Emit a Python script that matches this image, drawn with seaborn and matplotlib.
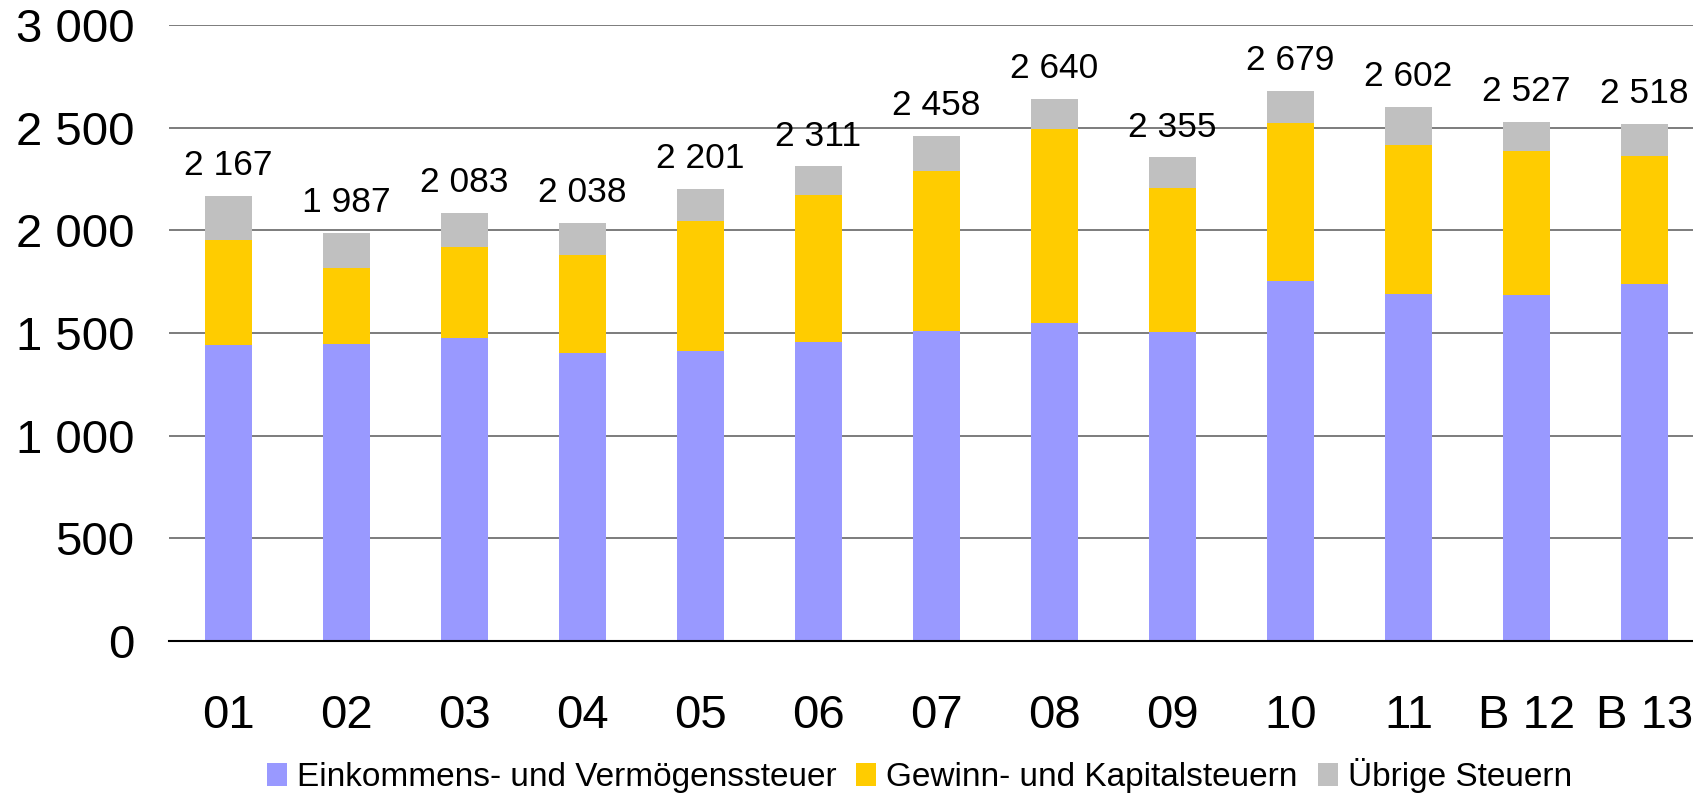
import numpy as np
import pandas as pd
import seaborn as sns
import matplotlib.pyplot as plt
from matplotlib.ticker import FuncFormatter
from matplotlib.patches import Patch

years = ["01", "02", "03", "04", "05", "06", "07", "08", "09", "10", "11", "B 12", "B 13"]
einkommen = [1442, 1448, 1478, 1403, 1413, 1458, 1510, 1549, 1505, 1754, 1692, 1685, 1740]
gewinn = [513, 370, 441, 477, 633, 714, 779, 942, 703, 769, 724, 702, 624]
uebrige = [212, 169, 164, 158, 155, 139, 169, 149, 147, 156, 186, 140, 154]

labels = ["Einkommens- und Vermögenssteuer", "Gewinn- und Kapitalsteuern", "Übrige Steuern"]
colors = ["#9999FF", "#FFCC00", "#C0C0C0"]

df = pd.DataFrame({"year": years, "ek": einkommen, "gk": gewinn, "ub": uebrige})
df["lvl2"] = df["ek"] + df["gk"]
df["total"] = df["lvl2"] + df["ub"]

sns.set_style("white")
plt.rcParams["font.family"] = ["Liberation Sans", "DejaVu Sans"]
plt.rcParams["text.color"] = "black"
plt.rcParams["xtick.color"] = "black"
plt.rcParams["ytick.color"] = "black"

fig = plt.figure(figsize=(16.93, 7.95), dpi=100)
ax = fig.add_axes([0.100, 0.1937, 0.900, 0.7749])

# overlapping bars, tallest first, give the stacked look
sns.barplot(x="year", y="total", data=df, color=colors[2], width=0.40, saturation=1, linewidth=0, ax=ax, zorder=2)
sns.barplot(x="year", y="lvl2", data=df, color=colors[1], width=0.40, saturation=1, linewidth=0, ax=ax, zorder=2)
sns.barplot(x="year", y="ek", data=df, color=colors[0], width=0.40, saturation=1, linewidth=0, ax=ax, zorder=2)

ax.bar_label(ax.containers[0], fmt=lambda v: f"{v:,.0f}".replace(",", " "),
             padding=10, fontsize=25.5, color="black")

ax.set_ylim(0, 3000)
ax.set_xlim(-0.5, 12.41)
ax.set_yticks(range(0, 3001, 500))
ax.yaxis.set_major_formatter(FuncFormatter(lambda v, p: f"{v:,.0f}".replace(",", " ")))
ax.grid(axis="y", color="#666666", linewidth=1.2, zorder=0)
ax.set_axisbelow(True)
for s in ["left", "right", "top"]:
    ax.spines[s].set_visible(False)
ax.spines["bottom"].set_color("black")
ax.spines["bottom"].set_linewidth(1.5)
ax.tick_params(axis="y", length=0, pad=25, labelsize=34)
ax.tick_params(axis="x", length=0, pad=38, labelsize=34)
ax.set_xlabel("")
ax.set_ylabel("")

handles = [Patch(facecolor=c, edgecolor="none") for c in colors]
fig.legend(handles, labels, loc="center", bbox_to_anchor=(0.543, 0.024), ncol=3,
           frameon=False, fontsize=24, handlelength=0.6, handleheight=0.7,
           handletextpad=0.3, columnspacing=0.6, borderpad=0)

fig.savefig("out.png", dpi=100)
